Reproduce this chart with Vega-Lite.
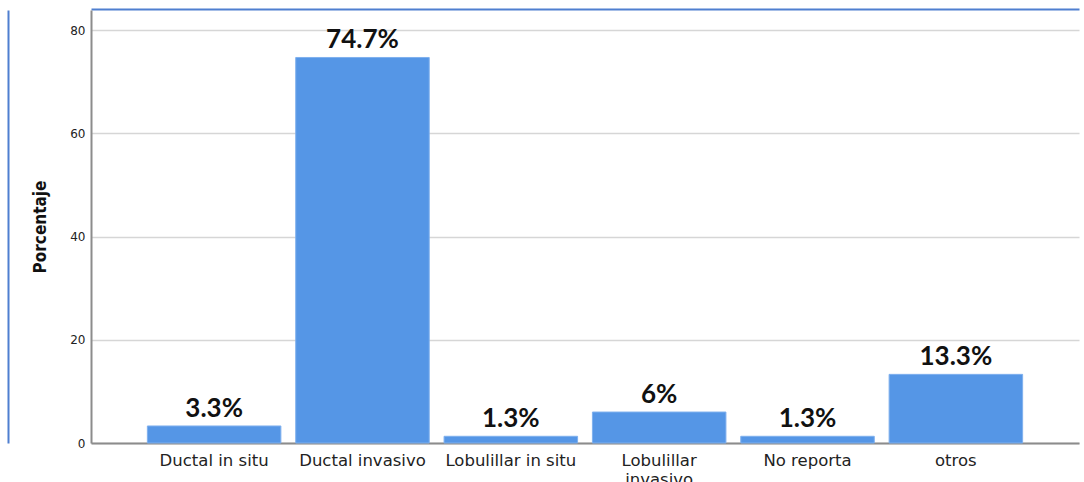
{
  "$schema": "https://vega.github.io/schema/vega-lite/v6.json",
  "autosize": "none",
  "width": 988,
  "height": 433,
  "padding": {"left": 91, "top": 10, "right": 5, "bottom": 39},
  "background": "white",
  "config": {"view": {"stroke": null}, "axis": {"labelFont": "DejaVu Sans", "titleFont": "DejaVu Sans Condensed"}},
  "data": {"values": [
    {"tipo": "Ductal in situ", "pct": 3.3, "lbl": "3.3%"},
    {"tipo": "Ductal invasivo", "pct": 74.7, "lbl": "74.7%"},
    {"tipo": "Lobulillar in situ", "pct": 1.3, "lbl": "1.3%"},
    {"tipo": "Lobulillar invasivo", "pct": 6, "lbl": "6%"},
    {"tipo": "No reporta", "pct": 1.3, "lbl": "1.3%"},
    {"tipo": "otros", "pct": 13.3, "lbl": "13.3%"}
  ]},
  "encoding": {
    "x": {"field": "tipo", "type": "nominal", "sort": null,
      "scale": {"paddingInner": 0.1, "paddingOuter": 0.38}},
    "y": {"field": "pct", "type": "quantitative", "scale": {"domain": [0, 83.9], "nice": false}}
  },
  "layer": [
    {
      "mark": {"type": "bar", "color": "#5596E6", "stroke": "#7FB0EE", "strokeWidth": 1},
      "encoding": {
        "x": {"field": "tipo", "type": "nominal", "sort": null,
          "axis": {"title": null, "labelAngle": 0, "ticks": false, "labelPadding": 9, "labelFontSize": 16.5, "labelColor": "#222222",
            "domainColor": "#8c8c8c", "domainWidth": 2, "labelLimit": 200,
            "labelExpr": "datum.value == 'Lobulillar invasivo' ? ['Lobulillar', 'invasivo'] : datum.value", "labelLineHeight": 19}},
        "y": {"field": "pct", "type": "quantitative",
          "axis": {"title": "Porcentaje", "values": [0, 20, 40, 60, 80], "ticks": false, "labelPadding": 6, "labelFontSize": 12, "labelColor": "#222222",
            "titleFontSize": 17, "titleFontWeight": "bold", "titleColor": "#111111", "titlePadding": 20,
            "domainColor": "#8c8c8c", "domainWidth": 2, "gridColor": "#d6d6d6", "gridWidth": 1.5}}
      }
    },
    {
      "mark": {"type": "text", "font": "Lato", "fontWeight": "bold", "fontSize": 26, "baseline": "alphabetic", "dy": -9, "color": "#111111"},
      "encoding": {
        "text": {"field": "lbl"},
        "x": {"field": "tipo", "type": "nominal", "sort": null,
          "axis": {"orient": "top", "title": null, "labels": false, "ticks": false, "domainColor": "#4F7FD0", "domainWidth": 2, "offset": 1}},
        "y": {"field": "pct", "type": "quantitative",
          "axis": {"orient": "left", "title": null, "labels": false, "ticks": false, "grid": false, "domainColor": "#4F7FD0", "domainWidth": 2, "offset": 83}}
      }
    }
  ],
  "resolve": {"axis": {"x": "independent", "y": "independent"}}
}
